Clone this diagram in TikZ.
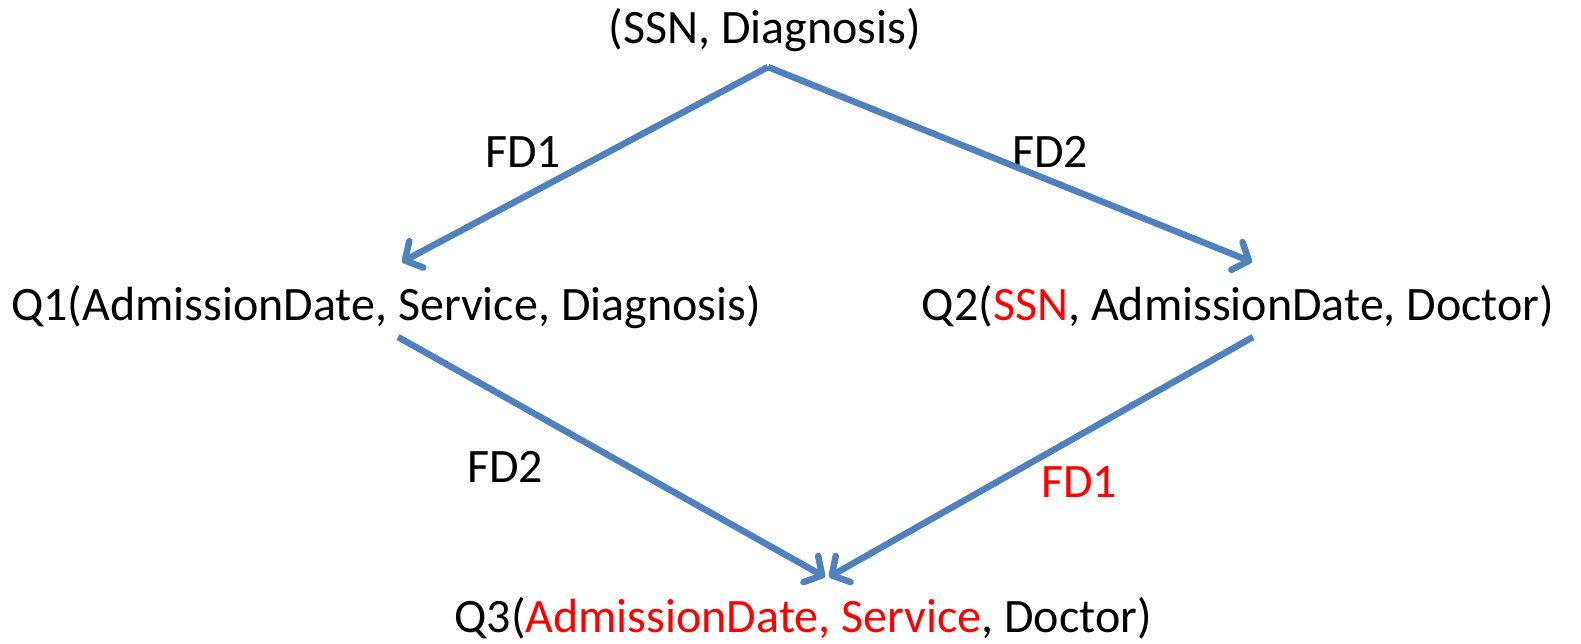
\documentclass[tikz,border=0pt]{standalone}
\usepackage{fontspec}
\setmainfont{Carlito}
\usetikzlibrary{arrows.meta}

\definecolor{fdblue}{HTML}{4F81BD}
\definecolor{fdred}{HTML}{FF0000}
\newcommand{\diagfont}{\fontsize{48pt}{58pt}\selectfont}

\begin{document}
\begin{tikzpicture}[
    x=1pt, y=-1pt,
    every node/.style={font=\diagfont, anchor=base, inner sep=0pt},
    every edge/.style = {draw, fdblue, line width=6.5pt,
        -{Straight Barb[length=13pt, width=30pt, round]}}
]
\useasboundingbox (0,0) rectangle (1581,643);

% Define coordinates for nodes
\node (sd)  at (765, 43)  {(SSN, Diagnosis)};

\node (fdA) at (523, 167) {FD1};
\node (fdB) at (1050, 167) {FD2};

\node (qone) at (386, 320) {Q1(AdmissionDate, Service, Diagnosis)};
\node (qtwo) at (1238, 320) {Q2(\textcolor{fdred}{SSN}, AdmissionDate, Doctor)};

\node (fdC) at (505, 482) {FD2};
\node (fdD) at (1079, 497) {\textcolor{fdred}{FD1}};

\node (qthree) at (803, 632) {Q3(\textcolor{fdred}{AdmissionDate, Service}, Doctor)};

\draw ([shift={(3,24)}]sd.base) edge ([shift={(16,-58)}]qone.base)
      ([shift={(3,24)}]sd.base) edge ([shift={(14,-58)}]qtwo.base)
      ([shift={(12,17)}]qone.base) edge ([shift={(22,-55)}]qthree.base)
      ([shift={(15,17)}]qtwo.base) edge ([shift={(26,-55)}]qthree.base);

\end{tikzpicture}
\end{document}
